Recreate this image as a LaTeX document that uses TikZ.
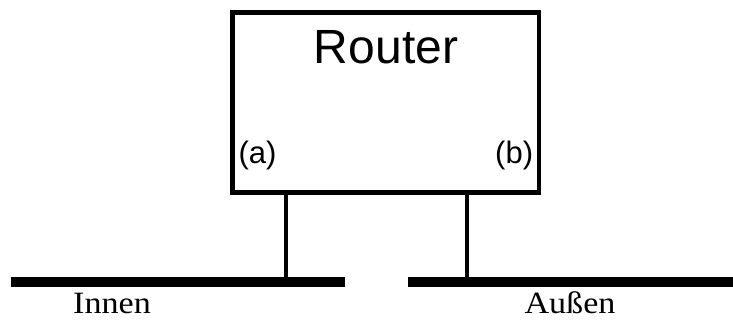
\documentclass[tikz,border=0pt]{standalone}
\usepackage{fontspec}
\setmainfont{Liberation Serif}
\newfontfamily\labelsans{Liberation Sans}
\begin{document}
\begin{tikzpicture}[x=1pt,y=-1pt,
  routerbox/.style={draw,line width=4.5pt,minimum width=306.5pt,minimum height=180pt,inner sep=0pt},
  titletext/.style={font=\labelsans\fontsize{48}{48}\selectfont,inner sep=0pt,anchor=base},
  porttext/.style={font=\labelsans\fontsize{31}{31}\selectfont,inner sep=0pt},
  nettext/.style={font=\fontsize{31}{31}\selectfont,inner sep=0pt,anchor=base,xscale=1.1},
  netbar/.style={line width=10pt,line cap=butt},
  stub/.style={line width=4.5pt,line cap=butt}]
  \useasboundingbox (0,0) rectangle (733,320);

  % router
  \node[routerbox] (router) at (385.75,102.5) {};
  \node[titletext] (title) at (386,63.3) {Router};
  \node[porttext,anchor=base west] (porta) at (238.3,163.3) {(a)};
  \node[porttext,anchor=base east] (portb) at (533.3,163.3) {(b)};

  % attachment points on the router's lower edge
  \coordinate (ifa) at (286,190.5);
  \coordinate (ifb) at (467,190.5);

  % the two networks
  \coordinate (innenL) at (10.7,282.3);
  \coordinate (innenR) at (345,282.3);
  \coordinate (aussenL) at (407.7,282.3);
  \coordinate (aussenR) at (733,282.3);
  \draw[netbar] (innenL) -- (innenR);
  \draw[netbar] (aussenL) -- (aussenR);

  % links from the interfaces down to the networks
  \draw[stub] (ifa) -- (ifa |- innenL);
  \draw[stub] (ifb) -- (ifb |- aussenL);

  \node[nettext] (innen) at (112,313.5) {Innen};
  \node[nettext] (aussen) at (570,313.5) {Außen};
\end{tikzpicture}
\end{document}
